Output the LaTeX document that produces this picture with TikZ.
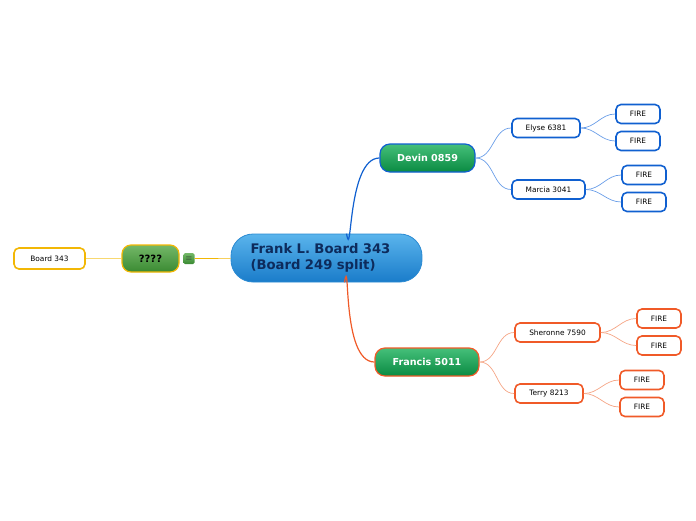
\documentclass[tikz,border=0pt]{standalone}
\usepackage{fontspec}
\setmainfont{DejaVu Sans}
\usetikzlibrary{positioning}

\definecolor{topblue}{HTML}{1060D0}
\definecolor{leafblue}{HTML}{6A9EE8}
\definecolor{toporange}{HTML}{F05A28}
\definecolor{leaforange}{HTML}{F5A585}
\definecolor{gold}{HTML}{F2B705}
\definecolor{paleGold}{HTML}{F8D870}
\definecolor{navy}{HTML}{0D2B5C}
\definecolor{skyTop}{HTML}{5AB4EC}
\definecolor{skyBottom}{HTML}{1A7CCA}
\definecolor{skyLine}{HTML}{2A8AD2}
\definecolor{mintTop}{HTML}{45C07A}
\definecolor{mintBottom}{HTML}{0A8A42}
\definecolor{oliveTop}{HTML}{74B868}
\definecolor{oliveBottom}{HTML}{3A8A32}

\begin{document}
\begin{tikzpicture}[x=1pt, y=-1pt,
    central/.style={draw=skyLine, line width=0.8pt, rounded corners=22pt,
        top color=skyTop, bottom color=skyBottom,
        minimum width=191pt, minimum height=48pt, text width=152pt, align=left,
        text=navy, font=\fontsize{13.2}{16}\selectfont\bfseries},
    mainbox/.style={rounded corners=10pt, line width=1.2pt,
        top color=mintTop, bottom color=mintBottom,
        minimum height=28pt, text=white, font=\fontsize{9.6}{11}\selectfont\bfseries},
    leafbox/.style={draw, fill=white, rounded corners=5pt, line width=1.6pt,
        minimum height=19pt, inner xsep=0pt, font=\fontsize{7.4}{8}\selectfont},
    thick link/.style={line width=1.2pt},
    thin link/.style={line width=0.7pt}]
\useasboundingbox (0,0) rectangle (696,520);

% centre
\node[central] (frank) at (326.5,258) {Frank L. Board 343\\(Board 249 split)};

% left side
\node[rounded corners=9pt, draw=gold, line width=1.2pt, top color=oliveTop,
    bottom color=oliveBottom, minimum width=57pt, minimum height=27pt,
    font=\fontsize{10}{11}\selectfont\bfseries] (unknown) at (150.5,258.5) {????};
\node[top color=oliveTop, bottom color=oliveBottom, rounded corners=1.5pt, text=black!80,
    minimum size=11pt, inner sep=0pt, font=\fontsize{8}{8}\selectfont] (note) at (189,258.5) {$\equiv$};
\node[leafbox, draw=gold, minimum width=71pt, minimum height=21pt] (board) at (49.5,258.5) {Board 343};

\draw[gold, thin link] (note) -- (frank);
\draw[paleGold, thin link] (unknown) -- (board);

% upper branch
\node[mainbox, draw=topblue, minimum width=95pt] (devin) at (427.5,158) {Devin 0859};
\node[leafbox, draw=topblue, minimum width=68pt] (elyse) at (546,128) {Elyse 6381};
\node[leafbox, draw=topblue, minimum width=73pt] (marcia) at (548.5,189.5) {Marcia 3041};
\node[leafbox, draw=topblue, minimum width=44pt] (fire1) at (638,114) {FIRE};
\node[leafbox, draw=topblue, minimum width=44pt] (fire2) at (638,141) {FIRE};
\node[leafbox, draw=topblue, minimum width=44pt] (fire3) at (644,175) {FIRE};
\node[leafbox, draw=topblue, minimum width=44pt] (fire4) at (644,202) {FIRE};

\draw[topblue, thick link] ([xshift=20pt]frank.north) to[out=-80, in=180] (devin.west);
\draw[leafblue, thin link] (devin.east) to[out=0, in=180] (elyse.west);
\draw[leafblue, thin link] (devin.east) to[out=0, in=180] (marcia.west);
\draw[leafblue, thin link] (elyse.east) to[out=0, in=180] (fire1.west);
\draw[leafblue, thin link] (elyse.east) to[out=0, in=180] (fire2.west);
\draw[leafblue, thin link] (marcia.east) to[out=0, in=180] (fire3.west);
\draw[leafblue, thin link] (marcia.east) to[out=0, in=180] (fire4.west);

% lower branch
\node[mainbox, draw=toporange, minimum width=104pt] (francis) at (427,362) {Francis 5011};
\node[leafbox, draw=toporange, minimum width=85pt] (sheronne) at (557.5,332.5) {Sheronne 7590};
\node[leafbox, draw=toporange, minimum width=68pt] (terry) at (549,393.5) {Terry 8213};
\node[leafbox, draw=toporange, minimum width=44pt] (fire5) at (659,318.5) {FIRE};
\node[leafbox, draw=toporange, minimum width=44pt] (fire6) at (659,345.5) {FIRE};
\node[leafbox, draw=toporange, minimum width=44pt] (fire7) at (642,380) {FIRE};
\node[leafbox, draw=toporange, minimum width=44pt] (fire8) at (642,407) {FIRE};

\draw[toporange, thick link] ([xshift=18pt]frank.south) to[out=80, in=180] (francis.west);
\draw[leaforange, thin link] (francis.east) to[out=0, in=180] (sheronne.west);
\draw[leaforange, thin link] (francis.east) to[out=0, in=180] (terry.west);
\draw[leaforange, thin link] (sheronne.east) to[out=0, in=180] (fire5.west);
\draw[leaforange, thin link] (sheronne.east) to[out=0, in=180] (fire6.west);
\draw[leaforange, thin link] (terry.east) to[out=0, in=180] (fire7.west);
\draw[leaforange, thin link] (terry.east) to[out=0, in=180] (fire8.west);
\end{tikzpicture}
\end{document}
